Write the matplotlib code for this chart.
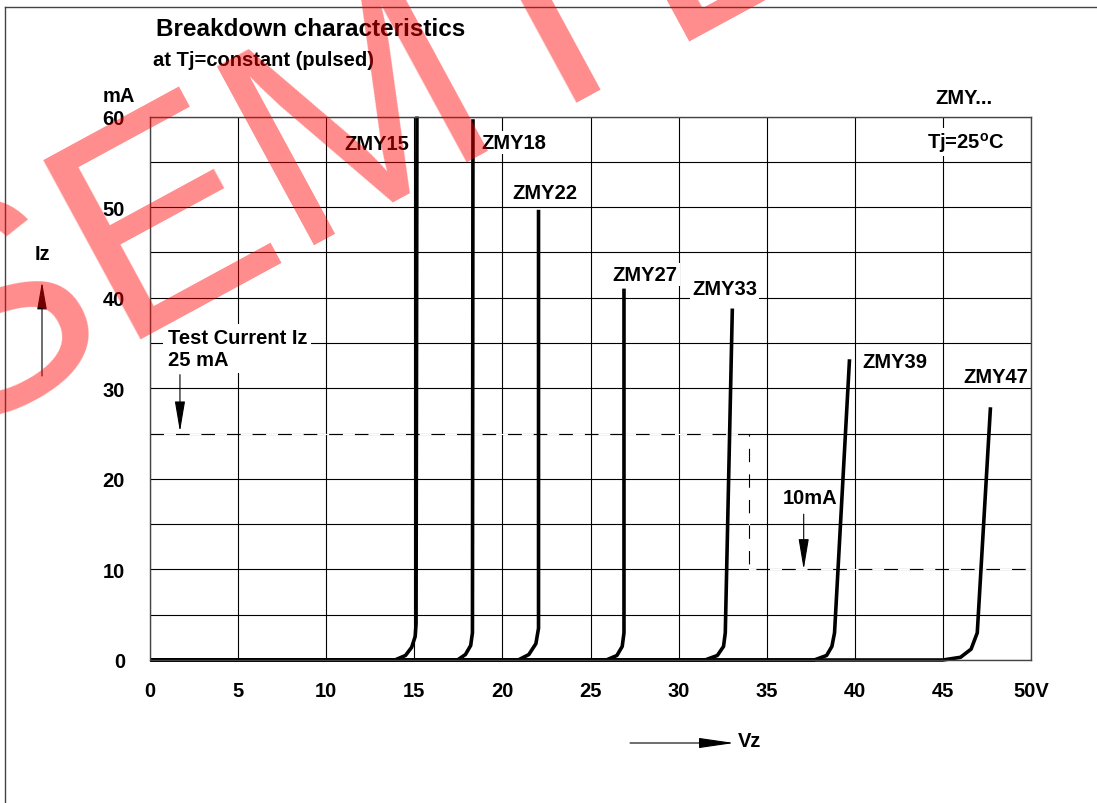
import matplotlib
matplotlib.use("Agg")
import matplotlib.pyplot as plt
from matplotlib.lines import Line2D

plt.rcParams['font.family'] = ['Liberation Sans', 'DejaVu Sans']
plt.rcParams['font.weight'] = 'bold'
plt.rcParams['mathtext.fontset'] = 'custom'
plt.rcParams['mathtext.rm'] = 'Liberation Sans:bold'
plt.rcParams['mathtext.bf'] = 'Liberation Sans:bold'
plt.rcParams['mathtext.default'] = 'rm'

# ---- data ----
x_ticks = [0, 5, 10, 15, 20, 25, 30, 35, 40, 45, 50]
x_labels = ['0', '5', '10', '15', '20', '25', '30', '35', '40', '45', '50V']
y_ticks = [0, 10, 20, 30, 40, 50, 60]
y_labels = ['0', '10', '20', '30', '40', '50', '60']

zmy15_v = [0, 13.9, 14.5, 14.85, 15.05, 15.1, 15.15]
zmy15_i = [0, 0, 0.5, 1.4, 2.6, 4.0, 60]
zmy18_v = [0, 17.45, 17.9, 18.2, 18.3, 18.33]
zmy18_i = [0, 0, 0.6, 1.6, 3.0, 59.7]
zmy22_v = [0, 20.9, 21.5, 21.9, 22.05, 22.05]
zmy22_i = [0, 0, 0.6, 1.8, 3.5, 49.7]
zmy27_v = [0, 25.9, 26.5, 26.8, 26.9, 26.9]
zmy27_i = [0, 0, 0.5, 1.5, 3.0, 41.0]
zmy33_v = [0, 31.5, 32.2, 32.55, 32.65, 33.05]
zmy33_i = [0, 0, 0.5, 1.5, 3.0, 38.8]
zmy39_v = [0, 37.7, 38.4, 38.7, 38.85, 39.7]
zmy39_i = [0, 0, 0.5, 1.5, 3.0, 33.2]
zmy47_v = [0, 45.0, 46.0, 46.6, 46.95, 47.7]
zmy47_i = [0, 0, 0.3, 1.2, 3.0, 27.9]

curves = [zmy15_v, zmy18_v, zmy22_v, zmy27_v, zmy33_v, zmy39_v, zmy47_v]
currents = [zmy15_i, zmy18_i, zmy22_i, zmy27_i, zmy33_i, zmy39_i, zmy47_i]
names = ['ZMY15', 'ZMY18', 'ZMY22', 'ZMY27', 'ZMY33', 'ZMY39', 'ZMY47']

# test current guide (25 mA, then 10 mA)
test_v = [0, 34, 34, 50]
test_i = [25, 25, 10, 10]

# label positions (V, mA) and alignment
label_pos = [(14.74, 57.0, 'right'), (18.82, 57.1, 'left'), (20.58, 51.6, 'left'),
             (26.25, 42.6, 'left'), (30.78, 41.0, 'left'), (40.42, 32.9, 'left'),
             (46.15, 31.3, 'left')]

W, H = 1097, 804


def fx(px):
    return px / W


def fy(py):
    return 1 - py / H


def arrow(head_length, head_width):
    return dict(arrowstyle='-|>,head_length=%g,head_width=%g' % (head_length, head_width),
                color='black', lw=0.8, shrinkA=0, shrinkB=0, mutation_scale=20)


fig = plt.figure(figsize=(W / 100, H / 100), dpi=100)
ax = fig.add_axes([fx(150), fy(661), (1031 - 150) / W, (661 - 117.5) / H])

ax.set_xlim(0, 50)
ax.set_ylim(0, 60)
ax.set_xticks(x_ticks, labels=x_labels)
ax.set_yticks(y_ticks, labels=y_labels)
ax.set_xticks(range(0, 51, 5), minor=True)
ax.set_yticks(range(0, 61, 5), minor=True)
ax.tick_params(which='both', length=0)
ax.tick_params(axis='x', pad=15, labelsize=14.5)
ax.tick_params(axis='y', pad=18, labelsize=14.5)
ax.grid(True, which='both', color='black', lw=0.8)
ax.set_axisbelow(True)
for s in ax.spines.values():
    s.set_color('#444444')
    s.set_linewidth(1.0)

# dashed test current line (hides the grid under it)
ax.plot(test_v, test_i, color='black', lw=0.8, dashes=(12, 11),
        gapcolor='white', zorder=1.5)

for v, i in zip(curves, currents):
    ax.plot(v, i, color='black', lw=2.6, solid_joinstyle='round',
            solid_capstyle='butt', clip_on=False, zorder=2)

box = dict(facecolor='white', edgecolor='none', pad=1.5)
for name, (lx, ly, ha) in zip(names, label_pos):
    ax.text(lx, ly, name, ha=ha, va='center', fontsize=14.5, bbox=box, zorder=3)

ax.text(44.56, 62.1, 'ZMY...', ha='left', va='center', fontsize=14.5, clip_on=False)
ax.text(44.1, 57.2, 'Tj=25$^{o}$C', ha='left', va='center', fontsize=14.5,
        bbox=box, zorder=3)

ax.text(1.0, 34.4, 'Test Current Iz\n25 mA', ha='left', va='center',
        fontsize=14.5, linespacing=1.2,
        bbox=dict(facecolor='white', edgecolor='none', pad=3), zorder=3)
ax.annotate('', xy=(1.7, 25.2), xytext=(1.7, 31.5), arrowprops=arrow(0.95, 0.16))

ax.text(35.9, 17.9, '10mA', ha='left', va='center', fontsize=14.5, zorder=3)
ax.annotate('', xy=(37.1, 10.0), xytext=(37.1, 16.1), arrowprops=arrow(0.95, 0.16))

# figure texts
fig.text(fx(156), fy(29), 'Breakdown characteristics', fontsize=17.5,
         ha='left', va='center')
fig.text(fx(153), fy(60), 'at Tj=constant (pulsed)', fontsize=14.5,
         ha='left', va='center')
fig.text(fx(103), fy(97), 'mA', fontsize=14.5, ha='left', va='center')
fig.text(fx(35), fy(254), 'Iz', fontsize=14.5, ha='left', va='center')
fig.text(fx(738), fy(742), 'Vz', fontsize=14.5, ha='left', va='center')

ax.annotate('', xy=(fx(42), fy(283)), xytext=(fx(42), fy(377)),
            xycoords='figure fraction', textcoords='figure fraction',
            arrowprops=arrow(0.85, 0.15))
ax.annotate('', xy=(fx(734), fy(744)), xytext=(fx(630), fy(744)),
            xycoords='figure fraction', textcoords='figure fraction',
            arrowprops=arrow(1.1, 0.16))

# page frame (top and left edges)
fig.add_artist(Line2D([fx(5), fx(W)], [fy(7.5), fy(7.5)], color='#444444', lw=1.0))
fig.add_artist(Line2D([fx(5), fx(5)], [fy(7.5), fy(H)], color='#444444', lw=1.0))

# watermark
fig.text(fx(-55), fy(438), 'SEMTECH', rotation=28.5, rotation_mode='anchor',
         ha='left', va='baseline', fontsize=213, fontweight='normal',
         color='red', alpha=0.45, zorder=10)

fig.savefig('out.png', dpi=100)
